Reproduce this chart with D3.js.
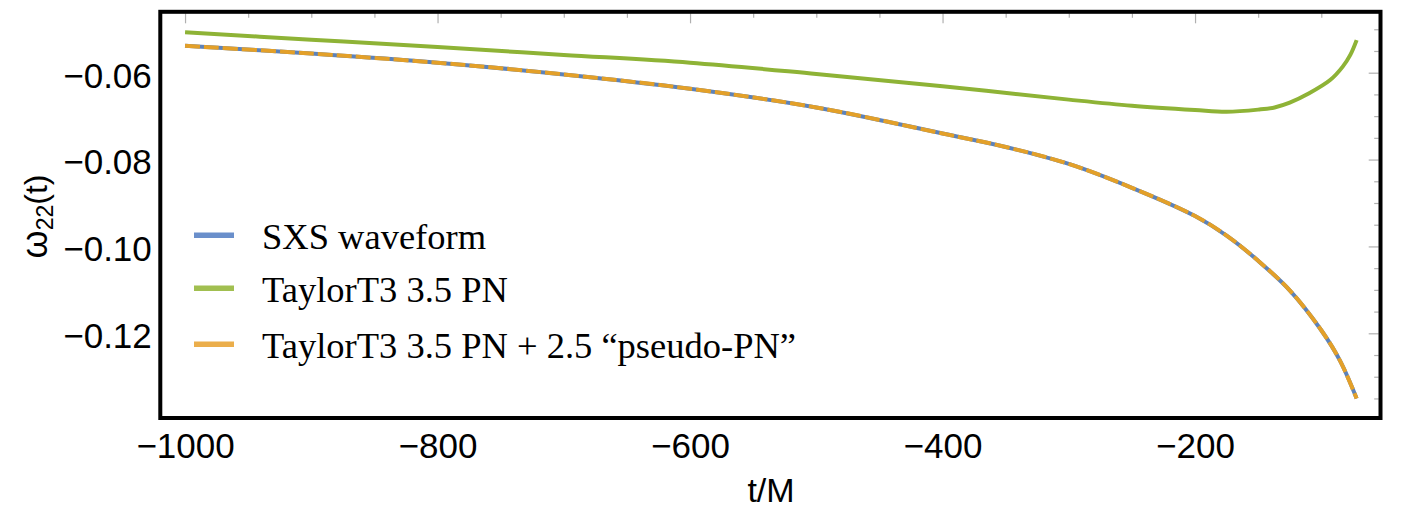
<!DOCTYPE html>
<html>
<head>
<meta charset="utf-8">
<script src="https://cdn.jsdelivr.net/npm/d3@7"></script>
<style>
  html, body { margin: 0; padding: 0; background: #ffffff; }
  svg { display: block; }
</style>
</head>
<body>
<svg id="chart" width="1403" height="509"></svg>
<script>
// ---- data ----
const tMain = [-1000, -900, -800, -700, -600, -500, -400, -350, -300, -250, -200, -175, -150, -125, -100, -85, -72];
const sxsValues = [-0.0538, -0.0556, -0.0577, -0.0604, -0.0637, -0.0680, -0.0740, -0.0771, -0.0810, -0.0865, -0.0930, -0.0975, -0.1033, -0.1101, -0.1193, -0.1264, -0.1350];
const pseudoValues = [-0.0538, -0.0556, -0.0577, -0.0604, -0.0637, -0.0680, -0.0740, -0.0771, -0.0810, -0.0865, -0.0930, -0.0975, -0.1033, -0.1101, -0.1193, -0.1264, -0.1350];
const tGreen = [-1000, -900, -800, -700, -600, -500, -400, -300, -250, -200, -175, -150, -137, -125, -110, -93, -83, -77, -72];
const taylorValues = [-0.0507, -0.0524, -0.0541, -0.0559, -0.0577, -0.0603, -0.0631, -0.0662, -0.0676, -0.0686, -0.0690, -0.0685, -0.0680, -0.0669, -0.0648, -0.0617, -0.0586, -0.0559, -0.0525];

const xTickValues = [-1000, -800, -600, -400, -200];
const xMinorValues = [-950, -900, -850, -750, -700, -650, -550, -500, -450, -350, -300, -250, -150, -100];
const yTickValues = [-0.06, -0.08, -0.10, -0.12];
const yMinorValues = [-0.05, -0.055, -0.065, -0.07, -0.075, -0.085, -0.09, -0.095, -0.105, -0.11, -0.115, -0.125, -0.13, -0.135];

const seriesNames = ["SXS waveform", "TaylorT3 3.5 PN", "TaylorT3 3.5 PN + 2.5 \u201Cpseudo-PN\u201D"];
const curveColors = ["#5d82b9", "#8eb336", "#e3a029"];
const legendColors = ["#6a8fcb", "#a1bf50", "#ebae4b"];
const xLabel = "t/M";

// ---- layout ----
const frame = { left: 160.3, right: 1380.5, top: 11.8, bottom: 418 };
const svg = d3.select("#chart");
svg.append("rect").attr("width", 1403).attr("height", 509).attr("fill", "#fff");

const x = d3.scaleLinear().domain([-1019.6, -53.1]).range([frame.left, frame.right]);
const y = d3.scaleLinear().domain([-0.04598, -0.1395]).range([frame.top, frame.bottom]);

svg.append("clipPath").attr("id", "clip")
  .append("rect")
  .attr("x", frame.left).attr("y", frame.top)
  .attr("width", frame.right - frame.left).attr("height", frame.bottom - frame.top);

const line = d3.line().x(d => x(d[0])).y(d => y(d[1])).curve(d3.curveCatmullRom.alpha(0.5));
const plot = svg.append("g").attr("clip-path", "url(#clip)");

plot.append("path").datum(d3.zip(tMain, sxsValues))
  .attr("d", line).attr("fill", "none")
  .attr("stroke", curveColors[0]).attr("stroke-width", 4);
plot.append("path").datum(d3.zip(tGreen, taylorValues))
  .attr("d", line).attr("fill", "none")
  .attr("stroke", curveColors[1]).attr("stroke-width", 4);
plot.append("path").datum(d3.zip(tMain, pseudoValues))
  .attr("d", line).attr("fill", "none")
  .attr("stroke", curveColors[2]).attr("stroke-width", 4)
  .attr("stroke-dasharray", "15,4");

// ---- ticks on top and right (inward) ----
function styleTicks(g) {
  g.select(".domain").remove();
  g.selectAll(".tick line").attr("stroke", "#b0b0b0").attr("stroke-width", 1.2);
  g.selectAll(".tick text").remove();
}
svg.append("g").attr("transform", `translate(0,${frame.top + 1.5})`)
  .call(d3.axisBottom(x).tickValues(xTickValues).tickSize(10).tickFormat(""))
  .call(styleTicks);
svg.append("g").attr("transform", `translate(0,${frame.top + 1.5})`)
  .call(d3.axisBottom(x).tickValues(xMinorValues).tickSize(4.5).tickFormat(""))
  .call(styleTicks);
svg.append("g").attr("transform", `translate(${frame.right - 1.8},0)`)
  .call(d3.axisLeft(y).tickValues(yTickValues).tickSize(10).tickFormat(""))
  .call(styleTicks);
svg.append("g").attr("transform", `translate(${frame.right - 1.8},0)`)
  .call(d3.axisLeft(y).tickValues(yMinorValues).tickSize(4.5).tickFormat(""))
  .call(styleTicks);

// ---- tick labels on left and bottom ----
const fontSans = "'Liberation Sans', Arial, Helvetica, sans-serif";
const xAxis = svg.append("g").attr("transform", `translate(0,${frame.bottom})`)
  .call(d3.axisBottom(x).tickValues(xTickValues).tickSize(0).tickFormat(d3.format("d")));
xAxis.select(".domain").remove();
xAxis.selectAll(".tick text")
  .attr("y", 40).attr("dy", 0)
  .attr("font-family", fontSans).attr("font-size", 35).attr("fill", "#000");

const yAxis = svg.append("g").attr("transform", `translate(${frame.left},0)`)
  .call(d3.axisLeft(y).tickValues(yTickValues).tickSize(0).tickFormat(d3.format(".2f")));
yAxis.select(".domain").remove();
yAxis.selectAll(".tick text")
  .attr("x", -8.5).attr("dy", 14.3)
  .attr("font-family", fontSans).attr("font-size", 35).attr("fill", "#000");

// ---- axis labels ----
svg.append("text").attr("x", 771).attr("y", 502)
  .attr("text-anchor", "middle")
  .attr("font-family", fontSans).attr("font-size", 34).attr("fill", "#000")
  .text(xLabel);

const yl = svg.append("text")
  .attr("transform", "translate(47,216.5) rotate(-90)")
  .attr("text-anchor", "middle")
  .attr("font-family", fontSans).attr("font-size", 32).attr("fill", "#000");
yl.append("tspan").attr("font-size", 36).text("\u03C9");
yl.append("tspan").attr("font-size", 23).attr("dy", 6).text("22");
yl.append("tspan").attr("dy", -6).text("(t)");

// ---- legend ----
const legendY = [235.3, 288.3, 344.3];
const leg = svg.append("g");
seriesNames.forEach((name, i) => {
  leg.append("line")
    .attr("x1", 194).attr("x2", 234)
    .attr("y1", legendY[i]).attr("y2", legendY[i])
    .attr("stroke", legendColors[i]).attr("stroke-width", 5.5);
  leg.append("text")
    .attr("x", 262).attr("y", legendY[i] + 14)
    .attr("font-family", "'Liberation Serif', 'Times New Roman', serif")
    .attr("font-size", 36.5).attr("fill", "#000")
    .text(name);
});

// ---- frame ----
svg.append("rect")
  .attr("x", frame.left).attr("y", frame.top)
  .attr("width", frame.right - frame.left).attr("height", frame.bottom - frame.top)
  .attr("fill", "none").attr("stroke", "#000").attr("stroke-width", 4);
</script>
</body>
</html>
